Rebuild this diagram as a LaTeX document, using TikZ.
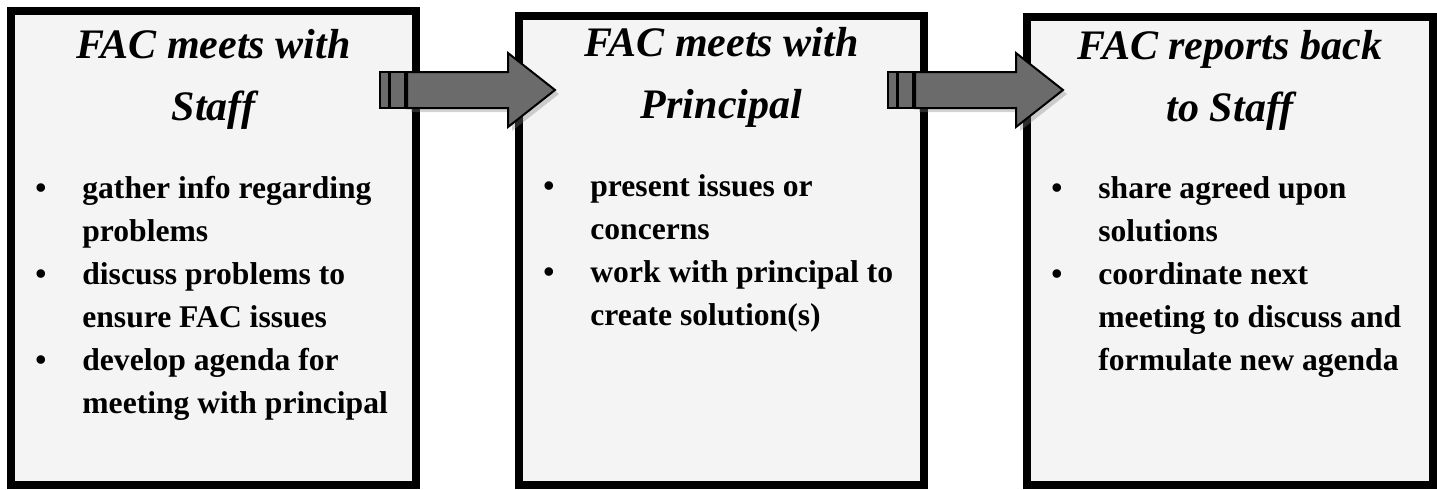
\documentclass[tikz,border=0pt]{standalone}
\usepackage{fontspec}
\setmainfont{Liberation Serif}
\usetikzlibrary{calc,shadows}
\definecolor{boxfill}{HTML}{F4F4F4}
\definecolor{arrowfill}{HTML}{6B6B6B}
\tikzset{
  stepbox/.style={draw, line width=4pt, fill=boxfill, inner sep=0pt,
    drop shadow={opacity=.3, shadow xshift=2pt, shadow yshift=-2pt}},
  heading/.style={anchor=base, align=center,
    font=\fontsize{21}{31}\selectfont\bfseries\itshape},
  points/.style={anchor=base west, inner sep=0pt,
    font=\fontsize{15.8}{21.5}\selectfont\bfseries},
  blockarrow/.style={draw, line width=1pt, fill=arrowfill, line join=miter},
}
\newcommand{\stripedarrow}[1]{%
  \begin{scope}[shift={(#1)}]
    \draw[blockarrow, drop shadow={opacity=.35, shadow xshift=2pt, shadow yshift=-2pt}]
      (-60.5,-18) -- (40.5,-18) -- (40.5,-37) -- (87.5,0) -- (40.5,37)
      -- (40.5,18) -- (-60.5,18) -- cycle;
    \draw[blockarrow] (-87.5,-18) rectangle (-78.5,18);
    \draw[blockarrow] (-77.5,-18) rectangle (-62.5,18);
  \end{scope}}
\begin{document}
\begin{tikzpicture}[x=0.5pt, y=-0.5pt]
  \useasboundingbox (0,0) rectangle (1437,489);

  \node[stepbox, minimum width=202.5pt, minimum height=237pt] (b1) at (213.5,248) {};
  \node[stepbox, minimum width=202.5pt, minimum height=234.5pt] (b2) at (721.5,250.5) {};
  \node[stepbox, minimum width=203pt, minimum height=234pt] (b3) at (1230,251) {};

  \node[heading] (t1) at (b1.north |- 0,120) {FAC meets with\\Staff};
  \node[heading] (t2) at (b2.north |- 0,118) {FAC meets with\\Principal};
  \node[heading] (t3) at (b3.north |- 0,121) {FAC reports back\\to Staff};

  \node[points, xshift=14pt] (l1) at (b1.west |- 0,198) {%
    \begin{tabular}[t]{@{}p{23.5pt}@{}l@{}}
      \textbullet & gather info regarding\\
                  & problems\\
      \textbullet & discuss problems to\\
                  & ensure FAC issues\\
      \textbullet & develop agenda for\\
                  & meeting with principal
    \end{tabular}};
  \node[points, xshift=14pt] (l2) at (b2.west |- 0,196) {%
    \begin{tabular}[t]{@{}p{23.5pt}@{}l@{}}
      \textbullet & present issues or\\
                  & concerns\\
      \textbullet & work with principal to\\
                  & create solution(s)
    \end{tabular}};
  \node[points, xshift=14pt] (l3) at (b3.west |- 0,198) {%
    \begin{tabular}[t]{@{}p{23.5pt}@{}l@{}}
      \textbullet & share agreed upon\\
                  & solutions\\
      \textbullet & coordinate next\\
                  & meeting to discuss and\\
                  & formulate new agenda
    \end{tabular}};

  \coordinate (g1) at ($(b1.east)!.5!(b2.west)$);
  \coordinate (g2) at ($(b2.east)!.5!(b3.west)$);
  \stripedarrow{g1 |- 0,90}
  \stripedarrow{g2 |- 0,90}
\end{tikzpicture}
\end{document}
